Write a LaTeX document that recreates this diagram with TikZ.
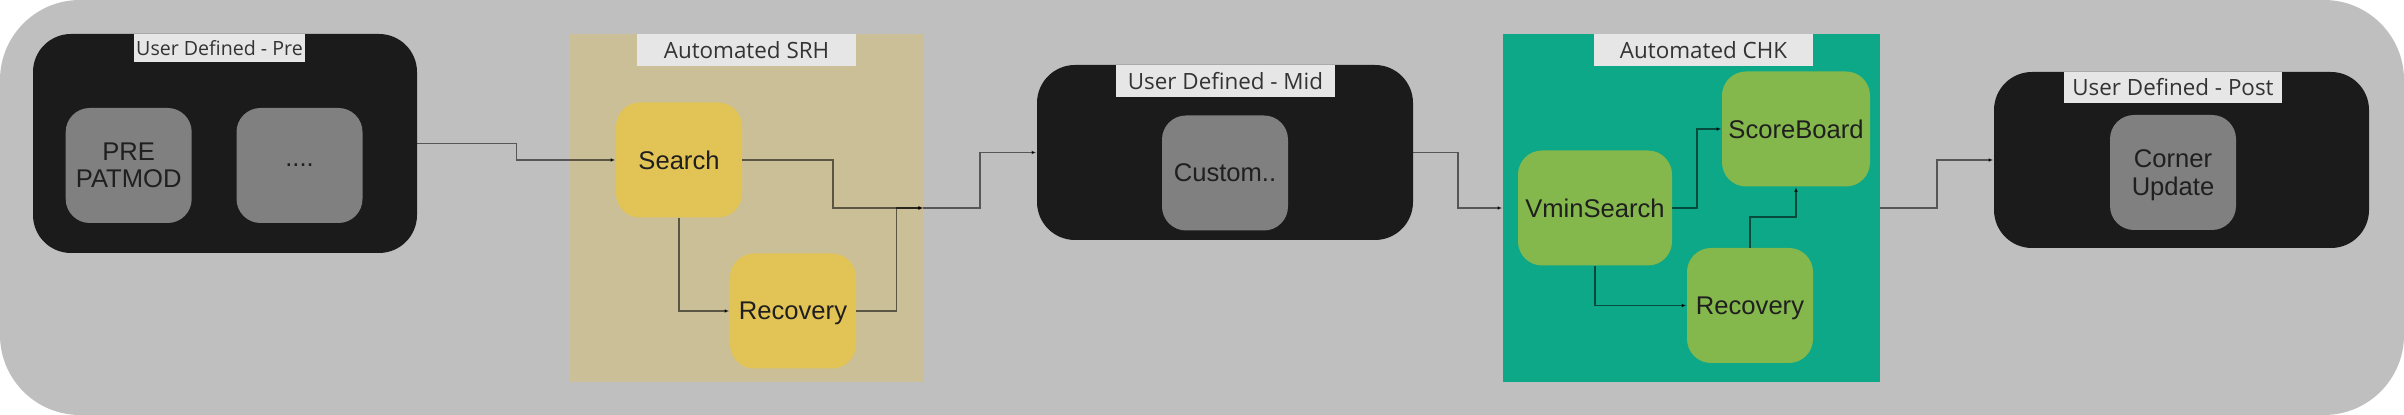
\documentclass[tikz,border=0pt]{standalone}
\usepackage{fontspec}
\setmainfont{Liberation Sans}
\newfontfamily\tagfont{Open Sans}
\usetikzlibrary{arrows.meta,calc}

\definecolor{bggray}{HTML}{BFBFBF}
\definecolor{stagedark}{HTML}{1B1B1B}
\definecolor{tagfill}{HTML}{E6E6E6}
\definecolor{boxgray}{HTML}{808080}
\definecolor{srhtan}{HTML}{CBBF97}
\definecolor{srhyellow}{HTML}{E2C355}
\definecolor{chkteal}{HTML}{0DA888}
\definecolor{chkgreen}{HTML}{84B74C}
\definecolor{inktext}{HTML}{1F1F1F}
\definecolor{tagtext}{HTML}{333333}

\begin{document}
\begin{tikzpicture}[x=0.5pt,y=-0.5pt,
    stage/.style={fill=stagedark, rounded corners=19pt, inner sep=0pt},
    group/.style={inner sep=0pt},
    tag/.style={fill=tagfill, inner sep=0pt, text=tagtext,
        font=\tagfont\fontsize{11.2}{13}\selectfont},
    block/.style={rounded corners=12pt, inner sep=0pt, align=center,
        minimum width=63pt, minimum height=57.5pt, text=inktext, text depth=0pt,
        font=\fontsize{12.8}{13.7}\selectfont},
    link/.style={draw=black, draw opacity=0.55, line width=0.75pt,
        -{Latex[length=2.5pt,width=2pt]}}]
    \useasboundingbox (0,0) rectangle (2404,415);
    \fill[white] (0,0) rectangle (2404,415);
    \fill[bggray, rounded corners=40pt] (0,0) rectangle (2404,415);

    % user defined - pre
    \node[stage, minimum width=192pt, minimum height=109.5pt] (pre) at (225,143.5) {};
    \node[tag, minimum width=85.5pt, minimum height=14pt,
        font=\tagfont\fontsize{9.8}{11}\selectfont] (pretag) at (219.5,48) {User Defined - Pre};
    \node[block, fill=boxgray] (patmod) at (128.7,165.5) {PRE\\PATMOD};
    \node[block, fill=boxgray] (dots) at (299.5,165.5) {....};

    % automated srh
    \node[group, fill=srhtan, minimum width=176.5pt, minimum height=174pt] (srh) at (746.5,208) {};
    \node[tag, minimum width=109.5pt, minimum height=16pt] (srhtag) at (746.5,50) {Automated SRH};
    \node[block, fill=srhyellow] (search) at (679,160) {Search};
    \node[block, fill=srhyellow] (recov1) at (793,311) {Recovery};

    % user defined - mid
    \node[stage, minimum width=188pt, minimum height=87.5pt] (mid) at (1225,152.5) {};
    \node[tag, minimum width=109.5pt, minimum height=16pt] (midtag) at (1225.5,81) {User Defined - Mid};
    \node[block, fill=boxgray] (custom) at (1225,173) {Custom..};

    % automated chk
    \node[group, fill=chkteal, minimum width=188.5pt, minimum height=174pt] (chk) at (1691.5,208) {};
    \node[tag, minimum width=109.5pt, minimum height=16pt] (chktag) at (1703.5,50) {Automated CHK};
    \node[block, fill=chkgreen, minimum width=77pt] (vmin) at (1595,208) {VminSearch};
    \node[block, fill=chkgreen, minimum width=74pt] (score) at (1796,129) {ScoreBoard};
    \node[block, fill=chkgreen] (recov2) at (1750,305.5) {Recovery};

    % user defined - post
    \node[stage, minimum width=187.5pt, minimum height=88pt] (post) at (2181.5,160) {};
    \node[tag, minimum width=109pt, minimum height=15.5pt] (posttag) at (2173,87.5) {User Defined - Post};
    \node[block, fill=boxgray] (corner) at (2173,172.5) {Corner\\Update};

    % connectors
    \draw[link] (pre.east) -| ($(pre.east)!0.5!(search.west)$) |- (search.west);
    \draw[link] (search.south) |- (recov1.west);
    \draw[link] (search.east) -| ($(search.east)!0.5!(srh.east)$) |- (srh.east);
    \draw[link] (recov1.east) -| ($(recov1.east)!0.6!(srh.east)$) |- (srh.east);
    \draw[link] (srh.east) -| ($(srh.east)!0.5!(mid.west)$) |- (mid.west);
    \draw[link] (mid.east) -| ($(mid.east)!0.5!(chk.west)$) |- (chk.west);
    \draw[link] (vmin.east) -| ($(vmin.east)!0.5!(score.west)$) |- (score.west);
    \draw[link] (vmin.south) |- (recov2.west);
    \draw[link] (recov2.north) |- ($(recov2.north)!0.5!(score.south)$) -| (score.south);
    \draw[link] (chk.east) -| ($(chk.east)!0.5!(post.west)$) |- (post.west);
\end{tikzpicture}
\end{document}
